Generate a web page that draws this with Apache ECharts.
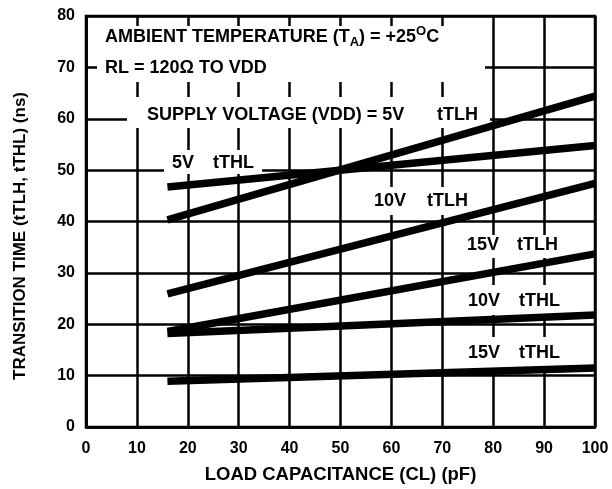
<!DOCTYPE html>
<html><head><meta charset="utf-8">
<script src="https://cdn.jsdelivr.net/npm/echarts@6/dist/echarts.min.js"></script>
<style>html,body{margin:0;padding:0;background:#fff}#c{width:612px;height:489px}</style>
</head><body><div id="c"></div>
<script>
const cap = [16, 100];
const t5TLH = [40.3, 64.4];
const t5THL = [46.7, 54.8];
const t10TLH = [25.9, 47.4];
const t15TLH = [18.6, 33.7];
const t10THL = [18.2, 21.8];
const t15THL = [8.9, 11.5];
const seriesList = [t5TLH, t5THL, t10TLH, t15TLH, t10THL, t15THL];
const xTicks = [0,10,20,30,40,50,60,70,80,90,100];
const yTicks = [0,10,20,30,40,50,60,70,80];

const FONT = '"Liberation Sans", Arial, sans-serif';
const AF = 'bold 18px ' + FONT;
const chart = echarts.init(document.getElementById('c'), null, {renderer:'canvas'});

function txt(left, cy, text) {
  return {type:'text', x:left, y:cy, z:20,
    style:{text:text, fill:'#000', font:AF, verticalAlign:'middle', align:'left'}};
}
function box(x1,y1,x2,y2){
  return {type:'rect', z:10, shape:{x:x1,y:y1,width:x2-x1,height:y2-y1}, style:{fill:'#fff'}};
}

chart.setOption({
  animation:false,
  backgroundColor:'#fff',
  grid:{left:86, right:17, top:16, bottom:58, show:true, borderColor:'#000', borderWidth:2.5},
  xAxis:{type:'value', min:0, max:100, interval:10,
    name:'LOAD CAPACITANCE (CL) (pF)', nameLocation:'middle', nameGap:38,
    nameTextStyle:{fontFamily:FONT, fontWeight:'bold', fontSize:18.5, color:'#000'},
    axisLine:{show:true, lineStyle:{color:'#000', width:2.5}}, axisTick:{show:false},
    axisLabel:{fontFamily:FONT, fontWeight:'bold', fontSize:16, color:'#000', margin:14,
      formatter: v => xTicks.includes(v) ? String(v) : ''},
    splitLine:{show:true, lineStyle:{color:'#000', width:2.5}}},
  yAxis:{type:'value', min:0, max:80, interval:10,
    axisLine:{show:true, lineStyle:{color:'#000', width:2.5}}, axisTick:{show:false},
    axisLabel:{fontFamily:FONT, fontWeight:'bold', fontSize:16, color:'#000', margin:11,
      formatter: v => yTicks.includes(v) ? String(v) : ''},
    splitLine:{show:true, lineStyle:{color:'#000', width:2.5}}},
  series: seriesList.map(v => ({type:'line', z:30, showSymbol:false, symbol:'none',
    data: cap.map((c,i)=>[c, v[i]]), lineStyle:{color:'#000', width:7.5, cap:'butt'}})),
  graphic:[
    box(97,26,485,82),
    box(127,97,490,128),
    box(164,150,262,174),
    box(365,187,475,215),
    box(458,235,568,258),
    box(458,285,568,315),
    box(458,337,568,368),
    {type:'text', x:20, y:236, rotation:Math.PI/2, z:20, style:{
      text:'TRANSITION TIME (tTLH, tTHL) (ns)', font:'bold 17px '+FONT, fill:'#000',
      align:'center', verticalAlign:'middle'}},
    {type:'text', x:105, y:37, z:20, style:{
      text:'AMBIENT TEMPERATURE (T{sub|A}) = +25{sup|O}C',
      font:AF, fill:'#000', lineHeight:24, verticalAlign:'middle',
      rich:{sub:{font:'bold 13px '+FONT, fill:'#000', lineHeight:12, verticalAlign:'bottom'},
            sup:{font:'bold 13px '+FONT, fill:'#000', lineHeight:12, verticalAlign:'top'}}}},
    txt(105, 68, 'RL = 120Ω TO VDD'),
    txt(147, 115, 'SUPPLY VOLTAGE (VDD) = 5V'),
    txt(437, 115, 'tTLH'),
    txt(172, 163, '5V'),
    txt(213, 163, 'tTHL'),
    txt(374, 201, '10V'),
    txt(427, 201, 'tTLH'),
    txt(467, 245, '15V'),
    txt(517, 245, 'tTLH'),
    txt(468, 301, '10V'),
    txt(519, 301, 'tTHL'),
    txt(468, 353, '15V'),
    txt(519, 353, 'tTHL')
  ]
});
</script></body></html>
